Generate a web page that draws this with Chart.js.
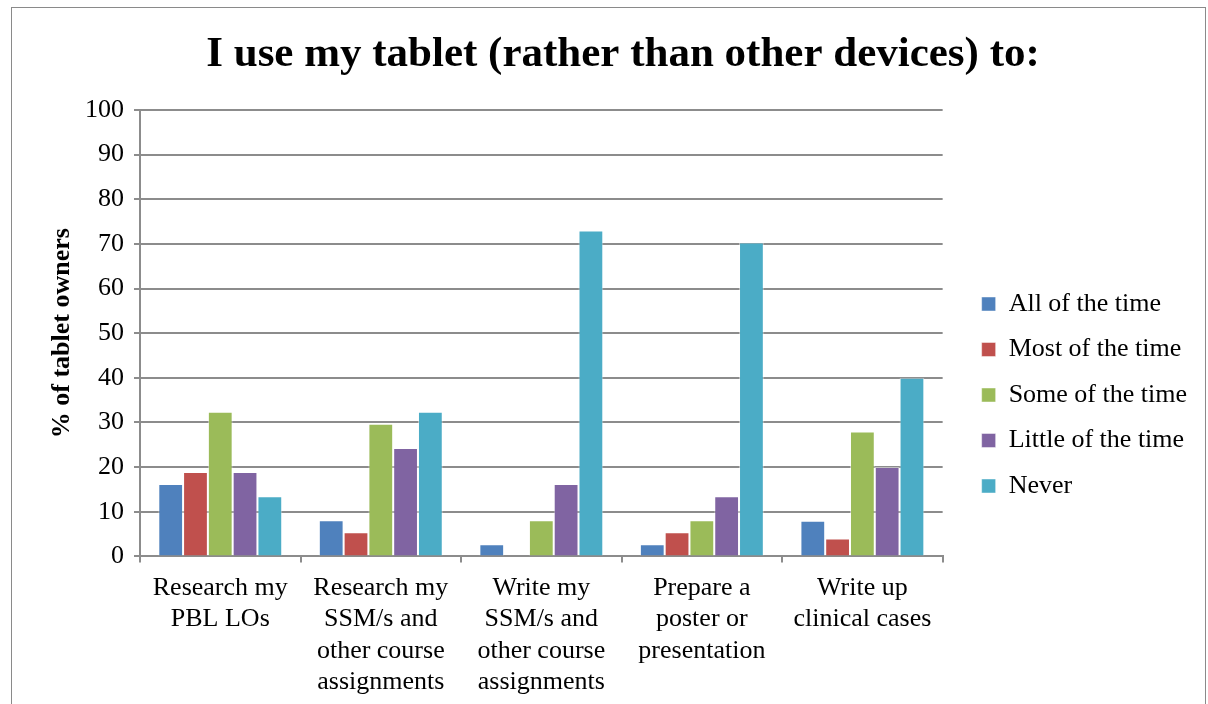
<!DOCTYPE html>
<html lang="en">
<head>
  <meta charset="UTF-8" />
  <title>Tablet use chart</title>
  <script src="https://cdn.jsdelivr.net/npm/chart.js"></script>
  <style>
    body {
      margin: 0;
      background: #fff;
      overflow: hidden;
    }
    #frame {
      position: absolute;
      left: 11px;
      top: 7px;
      width: 1193px;
      height: 760px;
      border: 1px solid #8a8a8a;
    }
    #chart {
      position: absolute;
      left: 0;
      top: 0;
    }
  </style>
</head>
<body>
  <div id="frame"></div>
  <canvas id="chart" width="1208" height="712"></canvas>

  <script>
    const categories = [
      ['Research my', 'PBL LOs'],
      ['Research my', 'SSM/s and', 'other course', 'assignments'],
      ['Write my', 'SSM/s and', 'other course', 'assignments'],
      ['Prepare a', 'poster or', 'presentation'],
      ['Write up', 'clinical cases']
    ];
    const allOfTime = [16.2, 8.1, 2.7, 2.7, 8];
    const mostOfTime = [18.9, 5.4, 0, 5.4, 4];
    const someOfTime = [32.4, 29.7, 8.1, 8.1, 28];
    const littleOfTime = [18.9, 24.3, 16.2, 13.5, 20];
    const never = [13.5, 32.4, 73.0, 70.3, 40];

    const font = '"Liberation Serif", "Times New Roman", serif';
    const gridGray = '#8c8c8c';

    const series = [
      { label: 'All of the time', data: allOfTime, color: '#4F81BD' },
      { label: 'Most of the time', data: mostOfTime, color: '#C0504D' },
      { label: 'Some of the time', data: someOfTime, color: '#9BBB59' },
      { label: 'Little of the time', data: littleOfTime, color: '#8064A2' },
      { label: 'Never', data: never, color: '#4BACC6' }
    ];

    new Chart(document.getElementById('chart'), {
      type: 'bar',
      data: {
        labels: categories,
        datasets: series.map(s => ({
          label: s.label,
          data: s.data,
          backgroundColor: s.color,
          borderColor: 'rgba(255,255,255,0.45)',
          borderWidth: 1,
          borderSkipped: 'bottom',
          categoryPercentage: 0.772,
          barPercentage: 1
        }))
      },
      options: {
        responsive: false,
        animation: false,
        layout: {
          padding: { left: 49, right: 11, top: 0, bottom: 4 }
        },
        plugins: {
          title: {
            display: true,
            text: 'I use my tablet (rather than other devices) to:',
            color: '#000',
            font: { family: font, size: 43, weight: 'bold' },
            padding: { top: 29, bottom: 29.4 }
          },
          legend: {
            position: 'right',
            align: 'center',
            maxWidth: 300,
            // empty title only pushes the entries down a bit
            title: {
              display: true,
              text: ' ',
              font: { size: 10 },
              padding: { top: 70, bottom: 0 }
            },
            labels: {
              color: '#000',
              font: { family: font, size: 26 },
              boxWidth: 14,
              boxHeight: 14,
              padding: 19.5,
              useBorderRadius: false
            }
          },
          tooltip: { enabled: false }
        },
        scales: {
          x: {
            grid: {
              display: true,
              drawOnChartArea: false,
              color: gridGray,
              lineWidth: 2,
              tickLength: 6
            },
            border: { color: gridGray, width: 2 },
            ticks: {
              color: '#000',
              font: { family: font, size: 26, lineHeight: 1.2 },
              padding: 10.4,
              maxRotation: 0,
              autoSkip: false
            }
          },
          y: {
            min: 0,
            max: 100,
            ticks: {
              stepSize: 10,
              color: '#000',
              font: { family: font, size: 26 },
              padding: 10
            },
            grid: {
              color: gridGray,
              lineWidth: 2,
              tickLength: 6
            },
            border: { color: gridGray, width: 2 },
            title: {
              display: true,
              text: '% of tablet owners',
              color: '#000',
              font: { family: font, size: 26, weight: 'bold', lineHeight: 1 },
              padding: { top: 0, bottom: 0 }
            }
          },
          gap: {
            position: 'right',
            display: true,
            ticks: { display: false },
            grid: { display: false, drawTicks: false },
            border: { display: false },
            afterFit(scale) { scale.width = 19.5; }
          }
        }
      }
    });
  </script>
</body>
</html>
